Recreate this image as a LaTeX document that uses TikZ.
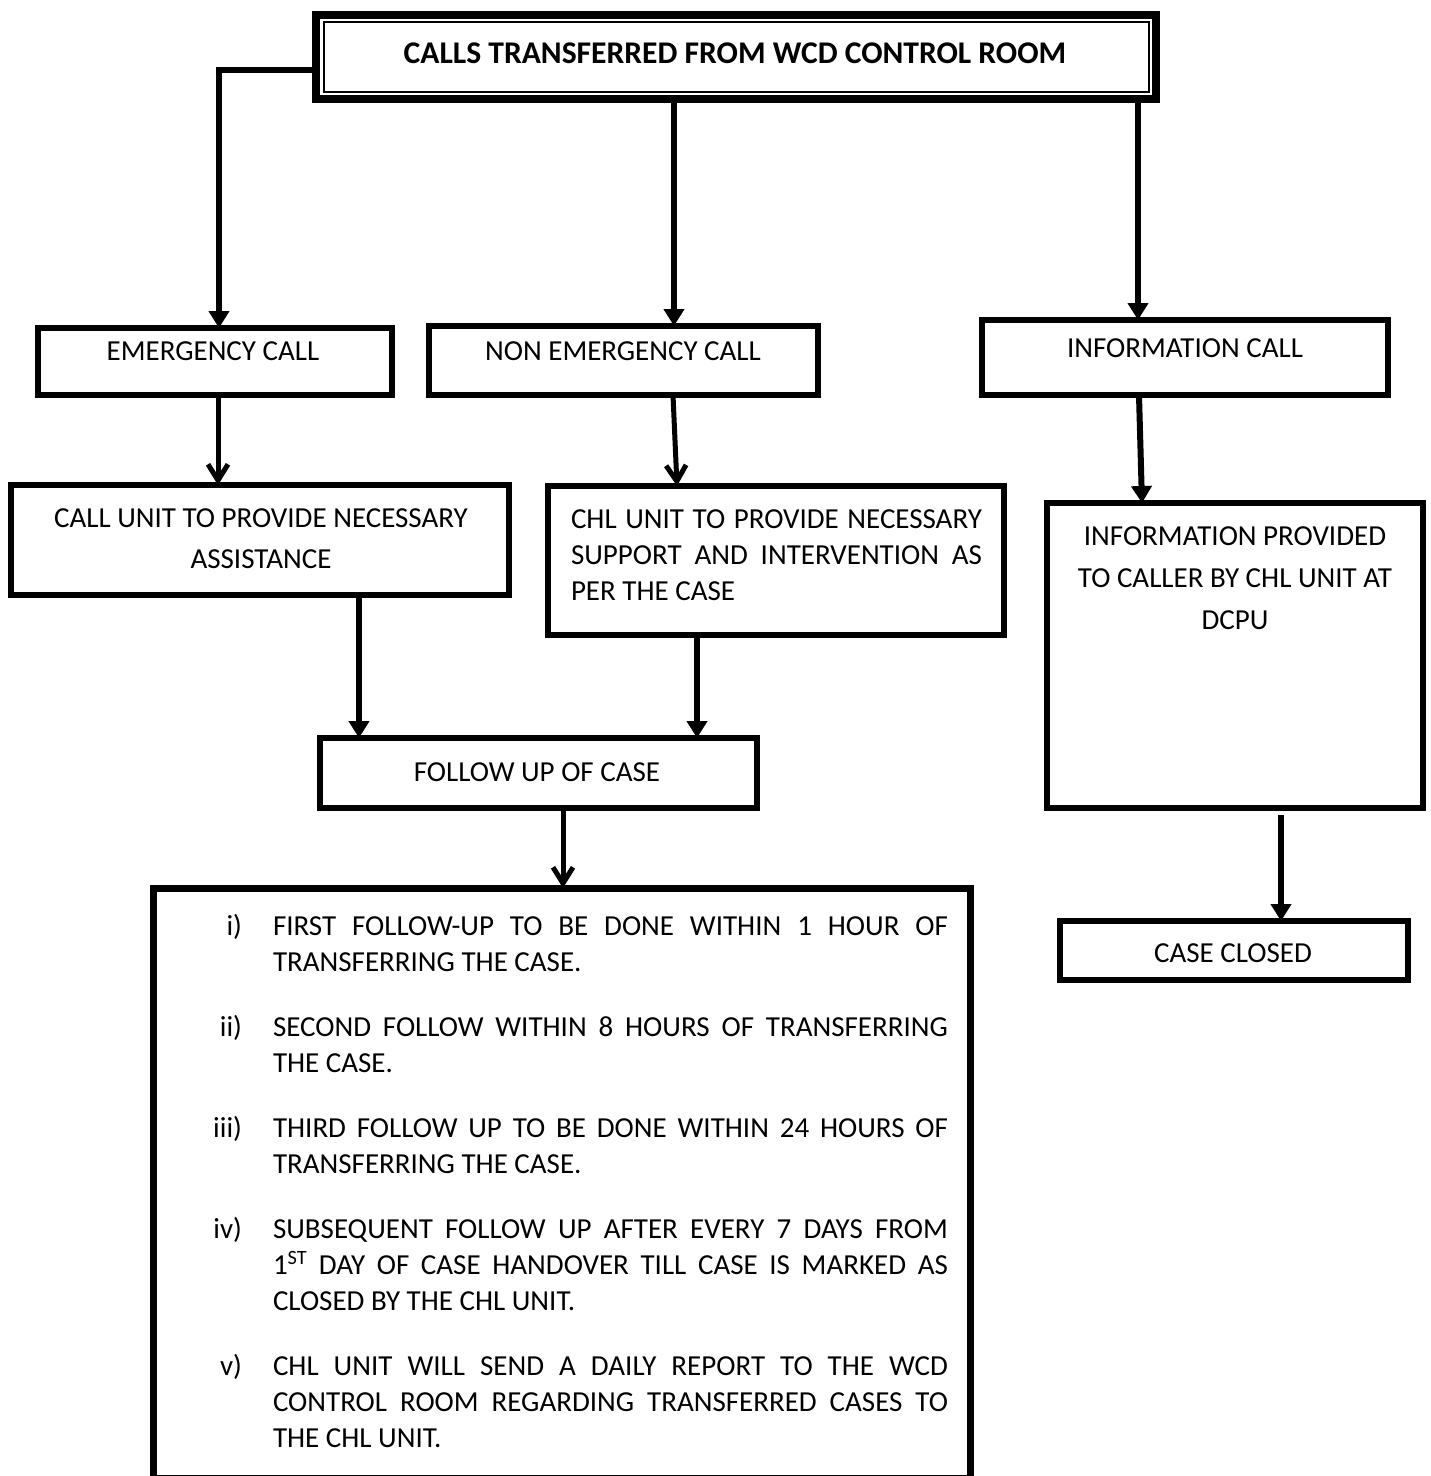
\documentclass[tikz,border=0pt]{standalone}
\usepackage{fontspec}
\setmainfont{Carlito}
\usetikzlibrary{arrows.meta,calc}
\begin{document}
\begin{tikzpicture}[x=1pt,y=-1pt,
  box/.style={draw, line width=6pt, inner sep=0pt, outer sep=0pt},
  txt/.style={inner sep=0pt, outer sep=0pt, anchor=base, font=\fontsize{29pt}{35pt}\selectfont},
  txtl/.style={txt, anchor=base west},
  tri/.style={line width=6pt, -{Triangle[length=17pt,width=20pt]}},
  vee/.style={line width=5pt, -{Straight Barb[length=16pt,width=20pt,line width=5pt]}}]
\useasboundingbox (0,0) rectangle (1431,1476);
\fill[white] (0,0) rectangle (1431,1476);

% top box
\node[box, line width=8pt, minimum width=840pt, minimum height=84pt] (top) at (736,57) {};
\draw[line width=2pt] ([shift={(8,7)}]top.north west) rectangle ([shift={(-7,-7)}]top.south east);
\node[txt, font=\fontsize{31.6pt}{38pt}\selectfont\bfseries] (title) at (735,63) {CALLS TRANSFERRED FROM WCD CONTROL ROOM};

% second row
\node[box, minimum width=354pt, minimum height=67pt] (emerg) at (215,361.5) {};
\node[txt] (temerg) at (213,360) {EMERGENCY CALL};
\node[box, minimum width=389pt, minimum height=69pt] (nonemerg) at (623.5,360.5) {};
\node[txt] (tnonemerg) at (623,360) {NON EMERGENCY CALL};
\node[box, minimum width=406pt, minimum height=75pt] (infocall) at (1185,357.5) {};
\node[txt] (tinfocall) at (1185,357) {INFORMATION CALL};

% third row
\node[box, minimum width=498pt, minimum height=110pt] (callunit) at (260,540) {};
\node[txt] (tcall1) at (261,527) {CALL UNIT TO PROVIDE NECESSARY};
\node[txt] (tcall2) at (261,568) {ASSISTANCE};

\node[box, minimum width=456pt, minimum height=149pt] (chlunit) at (776,560.5) {};
\node[txtl] (tchl1) at (571,528) {\makebox[411pt][s]{CHL UNIT TO PROVIDE NECESSARY}};
\node[txtl] (tchl2) at (571,564) {\makebox[411pt][s]{SUPPORT AND INTERVENTION AS}};
\node[txtl] (tchl3) at (571,600) {PER THE CASE};

\node[box, minimum width=376pt, minimum height=305pt] (infoprov) at (1235,655.5) {};
\node[txt] (tinfo1) at (1235,545) {INFORMATION PROVIDED};
\node[txt] (tinfo2) at (1235,587) {TO CALLER BY CHL UNIT AT};
\node[txt] (tinfo3) at (1235,629) {DCPU};

% fourth row
\node[box, minimum width=437pt, minimum height=70pt] (follow) at (538.5,773) {};
\node[txt] (tfollow) at (537,781) {FOLLOW UP OF CASE};
\node[box, minimum width=348pt, minimum height=59pt] (closed) at (1234,950.5) {};
\node[txt] (tclosed) at (1233,962) {CASE CLOSED};

% big list box
\node[box, line width=7pt, minimum width=817pt, minimum height=590pt] (list) at (562,1183) {};
\node[txt, anchor=base east] (li1) at (242,935) {i)};
\node[txtl] (l11) at (273,935) {\makebox[675pt][s]{FIRST FOLLOW-UP TO BE DONE WITHIN 1 HOUR OF}};
\node[txtl] (l12) at (273,971) {TRANSFERRING THE CASE.};
\node[txt, anchor=base east] (li2) at (242,1036) {ii)};
\node[txtl] (l21) at (273,1036) {\makebox[675pt][s]{SECOND FOLLOW WITHIN 8 HOURS OF TRANSFERRING}};
\node[txtl] (l22) at (273,1072) {THE CASE.};
\node[txt, anchor=base east] (li3) at (242,1137) {iii)};
\node[txtl] (l31) at (273,1137) {\makebox[675pt][s]{THIRD FOLLOW UP TO BE DONE WITHIN 24 HOURS OF}};
\node[txtl] (l32) at (273,1173) {TRANSFERRING THE CASE.};
\node[txt, anchor=base east] (li4) at (242,1238) {iv)};
\node[txtl] (l41) at (273,1238) {\makebox[675pt][s]{SUBSEQUENT FOLLOW UP AFTER EVERY 7 DAYS FROM}};
\node[txtl] (l42) at (273,1274) {\makebox[675pt][s]{1\textsuperscript{ST} DAY OF CASE HANDOVER TILL CASE IS MARKED AS}};
\node[txtl] (l43) at (273,1310) {CLOSED BY THE CHL UNIT.};
\node[txt, anchor=base east] (li5) at (242,1375) {v)};
\node[txtl] (l51) at (273,1375) {\makebox[675pt][s]{CHL UNIT WILL SEND A DAILY REPORT TO THE WCD}};
\node[txtl] (l52) at (273,1411) {\makebox[675pt][s]{CONTROL ROOM REGARDING TRANSFERRED CASES TO}};
\node[txtl] (l53) at (273,1447) {THE CHL UNIT.};

% connectors
\draw[tri] ([yshift=-13pt]top.west) -| (219,0 |- emerg.north);
\draw[tri] (674,0 |- top.south) -- (674,0 |- nonemerg.north);
\draw[tri] (1138,0 |- top.south) -- (1138,0 |- infocall.north);
\draw[vee] (218,0 |- emerg.south) -- (218,0 |- callunit.north);
\draw[vee] (673,0 |- nonemerg.south) -- (677,0 |- chlunit.north);
\draw[tri] (1139,0 |- infocall.south) -- (1142,0 |- infoprov.north);
\draw[tri] (359,0 |- callunit.south) -- (359,0 |- follow.north);
\draw[tri] (697,0 |- chlunit.south) -- (697,0 |- follow.north);
\draw[vee] (563,0 |- follow.south) -- (563,0 |- list.north);
\draw[tri] ($(1281,0 |- infoprov.south)+(0,7)$) -- (1281,0 |- closed.north);
\end{tikzpicture}
\end{document}
